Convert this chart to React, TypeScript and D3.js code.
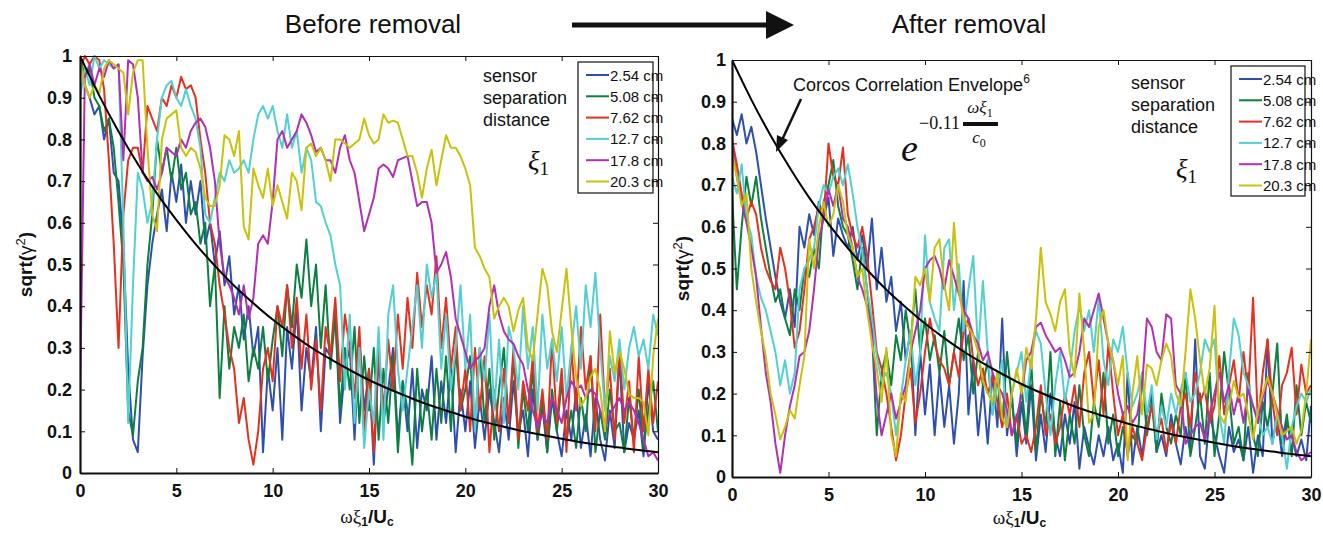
import React, { useRef, useEffect } from 'react';
import * as d3 from 'd3';

// sensor separations (legend) and line colours
const sensorLabels = ['2.54 cm', '5.08 cm', '7.62 cm', '12.7 cm', '17.8 cm', '20.3 cm'];
const sensorColors = ['#2f4fae', '#0b8040', '#e6301f', '#52d0d0', '#b22fb4', '#c9c10a'];

// all coherence series are sampled every 0.25 on the x axis (0 .. 30)
const xStep = 0.25;

// ---- before removal ----
const beforeBlue = [
  1.0, 0.93, 0.9, 0.86, 0.88, 0.8, 0.85, 0.72, 0.7, 0.55, 0.25, 0.08, 0.05, 0.28, 0.45, 0.55,
  0.62, 0.68, 0.58, 0.72, 0.65, 0.74, 0.6, 0.7, 0.62, 0.7, 0.55, 0.6, 0.5, 0.58, 0.45, 0.52,
  0.38, 0.45, 0.32, 0.4, 0.28, 0.35, 0.05, 0.25, 0.15, 0.3, 0.08, 0.35, 0.25, 0.4, 0.15, 0.3,
  0.22, 0.35, 0.1, 0.3, 0.28, 0.38, 0.12, 0.25, 0.3, 0.08, 0.32, 0.15, 0.25, 0.02, 0.28, 0.12,
  0.2, 0.3, 0.08, 0.22, 0.1, 0.25, 0.06, 0.2, 0.15, 0.28, 0.08, 0.22, 0.12, 0.25, 0.05, 0.2,
  0.1, 0.22, 0.06, 0.18, 0.08, 0.2, 0.12, 0.05, 0.18, 0.08, 0.22, 0.1, 0.15, 0.04, 0.2, 0.08,
  0.16, 0.05, 0.18, 0.1, 0.04, 0.15, 0.08, 0.2, 0.06, 0.14, 0.04, 0.18, 0.08, 0.03, 0.15, 0.06,
  0.28, 0.05, 0.12, 0.08, 0.15, 0.04, 0.22, 0.1, 0.08,
];
const beforeGreen = [
  1.0, 0.95, 0.97, 0.9, 0.88, 0.82, 0.85, 0.78, 0.65, 0.5, 0.15, 0.09, 0.22, 0.3, 0.5, 0.62,
  0.8, 0.72, 0.78, 0.7, 0.78, 0.68, 0.72, 0.62, 0.65, 0.55, 0.6, 0.4, 0.5, 0.18, 0.4, 0.25,
  0.35, 0.3, 0.38, 0.22, 0.3, 0.25, 0.35, 0.22, 0.32, 0.4, 0.28, 0.45, 0.35, 0.5, 0.42, 0.56,
  0.4, 0.5, 0.3, 0.45, 0.25, 0.38, 0.15, 0.3, 0.2, 0.35, 0.12, 0.28, 0.15, 0.3, 0.08, 0.25,
  0.12, 0.28, 0.05, 0.22, 0.15, 0.02, 0.25, 0.1, 0.2, 0.08, 0.25, 0.12, 0.28, 0.1, 0.3, 0.15,
  0.2, 0.28, 0.1, 0.3, 0.12, 0.25, 0.08, 0.2, 0.3, 0.12, 0.28, 0.06, 0.2, 0.1, 0.25, 0.08,
  0.18, 0.05, 0.2, 0.1, 0.22, 0.08, 0.15, 0.06, 0.18, 0.1, 0.28, 0.05, 0.15, 0.08, 0.2, 0.1,
  0.12, 0.05, 0.18, 0.08, 0.2, 0.06, 0.15, 0.22, 0.1,
];
const beforeRed = [
  0.97, 1.0, 0.98, 1.0, 0.99, 0.92, 0.75, 0.55, 0.3, 0.62, 0.75, 0.78, 0.78, 0.72, 0.88, 0.85,
  0.82, 0.9, 0.88, 0.93, 0.9, 0.95, 0.92, 0.93, 0.9, 0.8, 0.72, 0.6, 0.55, 0.45, 0.38, 0.3,
  0.25, 0.12, 0.18, 0.08, 0.02, 0.1, 0.25, 0.3, 0.22, 0.4, 0.35, 0.45, 0.3, 0.42, 0.25, 0.38,
  0.2, 0.32, 0.15, 0.35, 0.28, 0.42, 0.22, 0.38, 0.3, 0.18, 0.35, 0.1, 0.25, 0.05, 0.3, 0.15,
  0.32, 0.2, 0.38, 0.25, 0.42, 0.3, 0.48, 0.35, 0.45, 0.38, 0.52, 0.3, 0.42, 0.25, 0.35, 0.15,
  0.25, 0.1, 0.3, 0.15, 0.28, 0.05, 0.2, 0.1, 0.25, 0.12, 0.3, 0.08, 0.22, 0.15, 0.28, 0.1,
  0.2, 0.08, 0.32, 0.12, 0.25, 0.05, 0.3, 0.15, 0.35, 0.2, 0.28, 0.1, 0.38, 0.15, 0.25, 0.08,
  0.3, 0.12, 0.22, 0.05, 0.28, 0.1, 0.25, 0.12, 0.22,
];
const beforeCyan = [
  0.9, 0.97, 0.93, 1.0, 0.97, 0.99, 0.98, 0.97, 0.98, 0.6, 0.12, 0.45, 0.72, 0.68, 0.6, 0.65,
  0.8, 0.9, 0.93, 0.94, 0.9, 0.88, 0.92, 0.88, 0.85, 0.78, 0.62, 0.6, 0.66, 0.72, 0.7, 0.75,
  0.72, 0.73, 0.75, 0.72, 0.8, 0.86, 0.88, 0.85, 0.88, 0.82, 0.78, 0.86, 0.78, 0.82, 0.72, 0.78,
  0.75, 0.65, 0.64, 0.6, 0.57, 0.5, 0.45, 0.2, 0.38, 0.12, 0.3, 0.06, 0.2, 0.12, 0.35, 0.08,
  0.38, 0.45, 0.25, 0.15, 0.25, 0.35, 0.45, 0.3, 0.5, 0.42, 0.48, 0.25, 0.38, 0.2, 0.3, 0.45,
  0.25, 0.38, 0.1, 0.3, 0.22, 0.38, 0.15, 0.32, 0.12, 0.35, 0.3, 0.2, 0.4, 0.25, 0.35, 0.15,
  0.38, 0.25, 0.32, 0.22, 0.35, 0.18, 0.3, 0.4, 0.25, 0.45, 0.35, 0.48, 0.3, 0.15, 0.28, 0.22,
  0.32, 0.2, 0.3, 0.35, 0.28, 0.32, 0.25, 0.38, 0.33,
];
const beforeMagenta = [
  0.18, 0.95, 0.98, 0.93, 0.97, 0.95, 0.99, 0.97, 0.98, 0.75, 0.99, 0.98, 0.9, 0.72, 0.7, 0.71,
  0.68, 0.72, 0.78, 0.77, 0.76, 0.8, 0.78, 0.82, 0.84, 0.85, 0.83, 0.78, 0.7, 0.55, 0.47, 0.45,
  0.42, 0.38, 0.45, 0.37, 0.42, 0.55, 0.57, 0.55, 0.65, 0.8, 0.82, 0.78, 0.8, 0.82, 0.86, 0.84,
  0.81, 0.77, 0.78, 0.75, 0.75, 0.72, 0.78, 0.81, 0.75, 0.72, 0.65, 0.58, 0.62, 0.66, 0.73, 0.74,
  0.73, 0.71, 0.75, 0.755, 0.76, 0.7, 0.64, 0.65, 0.65, 0.6, 0.48, 0.5, 0.53, 0.47, 0.37, 0.33,
  0.29, 0.25, 0.27, 0.28, 0.3, 0.4, 0.45, 0.38, 0.34, 0.32, 0.31, 0.28, 0.26, 0.2, 0.15, 0.11,
  0.14, 0.12, 0.18, 0.15, 0.12, 0.18, 0.22, 0.2, 0.21, 0.18, 0.2, 0.19, 0.15, 0.11, 0.14, 0.16,
  0.18, 0.15, 0.17, 0.15, 0.12, 0.08, 0.04, 0.05, 0.03,
];
const beforeYellow = [
  0.99, 0.93, 0.9, 0.93, 0.91, 0.97, 0.99, 0.98, 0.97, 0.96, 0.86, 0.96, 0.99, 0.99, 0.78, 0.62,
  0.58, 0.8, 0.85, 0.86, 0.87, 0.78, 0.76, 0.78, 0.77, 0.73, 0.66, 0.64, 0.64, 0.69, 0.81, 0.8,
  0.76, 0.82, 0.59, 0.56, 0.73, 0.69, 0.66, 0.73, 0.64, 0.69, 0.65, 0.61, 0.72, 0.7, 0.63, 0.78,
  0.79, 0.76, 0.78, 0.75, 0.7, 0.8, 0.8, 0.79, 0.78, 0.79, 0.8, 0.85, 0.81, 0.79, 0.8, 0.86,
  0.84, 0.845, 0.84, 0.8, 0.76, 0.76, 0.72, 0.66, 0.73, 0.775, 0.69, 0.75, 0.81, 0.78, 0.78, 0.76,
  0.73, 0.69, 0.54, 0.52, 0.49, 0.47, 0.37, 0.4, 0.42, 0.4, 0.34, 0.39, 0.42, 0.3, 0.27, 0.38,
  0.49, 0.45, 0.34, 0.29, 0.39, 0.49, 0.35, 0.23, 0.16, 0.18, 0.23, 0.25, 0.2, 0.1, 0.34, 0.24,
  0.29, 0.25, 0.19, 0.18, 0.18, 0.17, 0.09, 0.28, 0.37,
];

// ---- after removal ----
const afterBlue = [
  0.86, 0.82, 0.87, 0.8, 0.84, 0.78, 0.7, 0.62, 0.55, 0.48, 0.42, 0.38, 0.45, 0.36, 0.6, 0.55,
  0.63, 0.58, 0.66, 0.62, 0.67, 0.53, 0.62, 0.58, 0.55, 0.6, 0.52, 0.58, 0.5, 0.62, 0.45, 0.55,
  0.42, 0.48, 0.35, 0.42, 0.28, 0.35, 0.1, 0.3, 0.15, 0.27, 0.1, 0.25, 0.12, 0.22, 0.08, 0.2,
  0.47, 0.15, 0.28, 0.1, 0.22, 0.08, 0.25, 0.12, 0.38, 0.1, 0.2, 0.05, 0.18, 0.08, 0.22, 0.04,
  0.15, 0.06, 0.2, 0.1, 0.05, 0.15, 0.08, 0.18, 0.02, 0.12, 0.07, 0.03, 0.1, 0.05, 0.12, 0.04,
  0.08, 0.01, 0.25, 0.03, 0.12, 0.05, 0.15, 0.2, 0.06, 0.1, 0.05, 0.15, 0.08, 0.03, 0.12, 0.06,
  0.33, 0.05, 0.02, 0.15, 0.1, 0.05, 0.01, 0.12, 0.06, 0.09, 0.04, 0.12, 0.01, 0.1, 0.05, 0.33,
  0.08, 0.15, 0.05, 0.13, 0.1, 0.05, 0.09, 0.04, 0.17,
];
const afterGreen = [
  0.68, 0.45, 0.6, 0.72, 0.65, 0.72, 0.62, 0.55, 0.48, 0.42, 0.45, 0.38, 0.34, 0.45, 0.4, 0.5,
  0.48, 0.55, 0.5, 0.66, 0.7, 0.76, 0.65, 0.6, 0.58, 0.52, 0.45, 0.55, 0.45, 0.35, 0.1, 0.25,
  0.3, 0.22, 0.34, 0.28, 0.4, 0.32, 0.45, 0.3, 0.38, 0.28, 0.34, 0.25, 0.35, 0.22, 0.3, 0.38,
  0.28, 0.34, 0.2, 0.3, 0.22, 0.28, 0.15, 0.25, 0.12, 0.3, 0.18, 0.08, 0.22, 0.1, 0.28, 0.06,
  0.2, 0.12, 0.3, 0.05, 0.18, 0.04, 0.15, 0.08, 0.22, 0.1, 0.05, 0.18, 0.12, 0.25, 0.08, 0.15,
  0.05, 0.12, 0.06, 0.1, 0.08, 0.25, 0.1, 0.18, 0.06, 0.2, 0.12, 0.08, 0.15, 0.1, 0.25, 0.05,
  0.12, 0.2, 0.08, 0.25, 0.05, 0.15, 0.3, 0.2, 0.08, 0.12, 0.04, 0.25, 0.1, 0.05, 0.18, 0.12,
  0.2, 0.32, 0.08, 0.15, 0.05, 0.22, 0.1, 0.18, 0.13,
];
const afterRed = [
  0.81, 0.75, 0.68, 0.62, 0.66, 0.63, 0.55, 0.5, 0.47, 0.45, 0.55, 0.5, 0.42, 0.31, 0.35, 0.45,
  0.57, 0.6, 0.65, 0.62, 0.8, 0.72, 0.7, 0.79, 0.63, 0.58, 0.55, 0.6, 0.53, 0.42, 0.3, 0.26,
  0.2, 0.12, 0.04, 0.1, 0.2, 0.26, 0.13, 0.2, 0.3, 0.38, 0.32, 0.28, 0.26, 0.22, 0.3, 0.24,
  0.35, 0.38, 0.28, 0.22, 0.26, 0.2, 0.24, 0.18, 0.12, 0.2, 0.1, 0.15, 0.08, 0.1, 0.06, 0.12,
  0.22, 0.1, 0.15, 0.08, 0.12, 0.2, 0.15, 0.22, 0.12, 0.25, 0.3, 0.18, 0.28, 0.15, 0.32, 0.2,
  0.1, 0.15, 0.05, 0.12, 0.08, 0.04, 0.12, 0.17, 0.1, 0.14, 0.06, 0.13, 0.08, 0.17, 0.2, 0.12,
  0.25, 0.18, 0.21, 0.13, 0.17, 0.29, 0.15, 0.22, 0.28, 0.18, 0.3, 0.2, 0.43, 0.13, 0.25, 0.33,
  0.18, 0.1, 0.22, 0.25, 0.31, 0.15, 0.27, 0.2, 0.22,
];
const afterCyan = [
  0.72, 0.68, 0.75, 0.62, 0.58, 0.48, 0.43, 0.4, 0.35, 0.3, 0.22, 0.28, 0.2, 0.25, 0.45, 0.5,
  0.52, 0.55, 0.65, 0.7, 0.68, 0.72, 0.74, 0.7, 0.75, 0.68, 0.6, 0.54, 0.45, 0.38, 0.29, 0.23,
  0.25, 0.2, 0.1, 0.19, 0.28, 0.35, 0.22, 0.3, 0.58, 0.42, 0.38, 0.35, 0.55, 0.57, 0.4, 0.51,
  0.35, 0.45, 0.53, 0.3, 0.47, 0.3, 0.15, 0.22, 0.28, 0.12, 0.2, 0.25, 0.3, 0.18, 0.28, 0.35,
  0.32, 0.2, 0.1, 0.22, 0.3, 0.18, 0.25, 0.35, 0.41, 0.35, 0.4, 0.3, 0.43, 0.28, 0.22, 0.33,
  0.3, 0.36, 0.25, 0.17, 0.2, 0.25, 0.15, 0.22, 0.09, 0.17, 0.12, 0.2, 0.15, 0.21, 0.25, 0.18,
  0.2, 0.25, 0.33, 0.3, 0.33, 0.15, 0.08, 0.25, 0.38, 0.34, 0.25, 0.22, 0.17, 0.15, 0.1, 0.12,
  0.08, 0.15, 0.1, 0.02, 0.12, 0.17, 0.2, 0.18, 0.21,
];
const afterMagenta = [
  0.8, 0.72, 0.66, 0.61, 0.55, 0.48, 0.36, 0.25, 0.18, 0.08, 0.01, 0.1, 0.17, 0.22, 0.29, 0.3,
  0.35, 0.45, 0.57, 0.62, 0.69, 0.65, 0.7, 0.62, 0.6, 0.55, 0.48, 0.45, 0.41, 0.35, 0.19, 0.1,
  0.15, 0.2, 0.14, 0.18, 0.22, 0.3, 0.35, 0.4, 0.5, 0.52, 0.53, 0.5, 0.45, 0.52, 0.48, 0.44,
  0.4, 0.38, 0.34, 0.32, 0.28, 0.3, 0.25, 0.22, 0.2, 0.16, 0.1, 0.14, 0.2, 0.28, 0.3, 0.36,
  0.37, 0.34, 0.32, 0.3, 0.31, 0.28, 0.24, 0.25, 0.3, 0.38, 0.36, 0.4, 0.44, 0.38, 0.32, 0.28,
  0.2, 0.15, 0.17, 0.13, 0.15, 0.22, 0.38, 0.36, 0.3, 0.28, 0.39, 0.38, 0.22, 0.2, 0.08, 0.1,
  0.12, 0.13, 0.09, 0.15, 0.2, 0.25, 0.18, 0.22, 0.15, 0.2, 0.13, 0.21, 0.17, 0.13, 0.19, 0.23,
  0.2, 0.16, 0.12, 0.09, 0.1, 0.06, 0.04, 0.05, 0.06,
];
const afterYellow = [
  0.78, 0.72, 0.65, 0.68, 0.5, 0.42, 0.35, 0.29, 0.2, 0.15, 0.09, 0.12, 0.16, 0.14, 0.22, 0.29,
  0.57, 0.5, 0.6, 0.66, 0.6, 0.63, 0.7, 0.66, 0.58, 0.55, 0.48, 0.5, 0.4, 0.32, 0.26, 0.18,
  0.31, 0.1, 0.05, 0.2, 0.18, 0.3, 0.48, 0.46, 0.5, 0.42, 0.55, 0.57, 0.46, 0.4, 0.61, 0.45,
  0.38, 0.36, 0.34, 0.3, 0.23, 0.2, 0.18, 0.25, 0.14, 0.12, 0.2, 0.26, 0.2, 0.31, 0.26, 0.38,
  0.55, 0.42, 0.39, 0.35, 0.42, 0.45, 0.3, 0.24, 0.44, 0.3, 0.13, 0.15, 0.36, 0.4, 0.32, 0.28,
  0.22, 0.29, 0.04, 0.2, 0.29, 0.15, 0.27, 0.26, 0.22, 0.28, 0.32, 0.29, 0.2, 0.17, 0.3, 0.45,
  0.38, 0.28, 0.2, 0.26, 0.41, 0.15, 0.13, 0.17, 0.23, 0.19, 0.2, 0.15, 0.09, 0.16, 0.2, 0.24,
  0.2, 0.15, 0.1, 0.11, 0.12, 0.08, 0.11, 0.2, 0.33,
];

// Corcos correlation envelope as drawn
const envelopeX = [0, 1, 2, 3, 4, 5, 6, 7, 8, 9, 10, 11, 12, 13, 14, 15, 16, 17, 18, 19, 20, 21, 22, 23, 24, 25, 26, 27, 28, 29, 30];
const envelopeY = [1.0, 0.905, 0.819, 0.741, 0.67, 0.607, 0.549, 0.497, 0.449, 0.407, 0.368, 0.333, 0.301, 0.273, 0.247, 0.223, 0.202, 0.183, 0.165, 0.15, 0.135, 0.122, 0.111, 0.1, 0.091, 0.082, 0.074, 0.067, 0.061, 0.055, 0.05];

const xTicks = [0, 5, 10, 15, 20, 25, 30];
const yTicks = [0, 0.1, 0.2, 0.3, 0.4, 0.5, 0.6, 0.7, 0.8, 0.9, 1];
const yTickLabels = ['0', '0.1', '0.2', '0.3', '0.4', '0.5', '0.6', '0.7', '0.8', '0.9', '1'];

const SANS = "'Liberation Sans', Arial, Helvetica, sans-serif";
const SERIF = "'Liberation Serif', 'Times New Roman', serif";

function drawPanel(svg, cfg) {
  const x = d3.scaleLinear().domain([0, 30]).range([cfg.left, cfg.right]);
  const y = d3.scaleLinear().domain([0, 1]).range([cfg.bottom, cfg.top]);

  const clipId = 'clip-' + cfg.id;
  svg.append('clipPath').attr('id', clipId)
    .append('rect')
    .attr('x', cfg.left).attr('y', cfg.top - 2)
    .attr('width', cfg.right - cfg.left).attr('height', cfg.bottom - cfg.top + 2);

  const line = d3.line()
    .x((d, i) => x(i * xStep))
    .y(d => y(d));

  const plot = svg.append('g').attr('clip-path', `url(#${clipId})`);
  cfg.series.forEach((vals, k) => {
    plot.append('path')
      .datum(vals)
      .attr('d', line)
      .attr('fill', 'none')
      .attr('stroke', sensorColors[k])
      .attr('stroke-width', 2)
      .attr('stroke-linejoin', 'round');
  });

  const env = d3.line()
    .x((d, i) => x(envelopeX[i]))
    .y(d => y(d))
    .curve(d3.curveMonotoneX);
  plot.append('path')
    .datum(envelopeY)
    .attr('d', env)
    .attr('fill', 'none')
    .attr('stroke', '#000')
    .attr('stroke-width', 2);

  // frame: ticks point inward on every side
  const styleAxis = (g, w) => {
    g.select('.domain').attr('stroke', '#111').attr('stroke-width', w);
    g.selectAll('.tick line').attr('stroke', '#111').attr('stroke-width', 1);
    g.selectAll('.tick text')
      .attr('font-family', SANS).attr('font-weight', 'bold')
      .attr('font-size', 18).attr('fill', '#111');
  };

  svg.append('g')
    .attr('transform', `translate(0,${cfg.top})`)
    .call(d3.axisTop(x).tickValues(xTicks).tickSizeInner(-5).tickSizeOuter(0).tickFormat(() => ''))
    .call(g => styleAxis(g, 1.2));
  svg.append('g')
    .attr('transform', `translate(${cfg.right},0)`)
    .call(d3.axisRight(y).tickValues(yTicks).tickSizeInner(-5).tickSizeOuter(0).tickFormat(() => ''))
    .call(g => styleAxis(g, 1.2));
  svg.append('g')
    .attr('transform', `translate(0,${cfg.bottom})`)
    .call(d3.axisBottom(x).tickValues(xTicks).tickSizeInner(-5).tickSizeOuter(0).tickPadding(11))
    .call(g => styleAxis(g, 2.2));
  svg.append('g')
    .attr('transform', `translate(${cfg.left},0)`)
    .call(d3.axisLeft(y).tickValues(yTicks).tickSizeInner(-5).tickSizeOuter(0).tickPadding(cfg.yPad)
      .tickFormat((d, i) => yTickLabels[i]))
    .call(g => styleAxis(g, 2.2));

  // y axis title
  const yt = svg.append('text')
    .attr('transform', `translate(${cfg.yTitleX},${(cfg.top + cfg.bottom) / 2}) rotate(-90)`)
    .attr('text-anchor', 'middle')
    .attr('font-family', SANS).attr('font-size', 19).attr('font-weight', 'bold').attr('fill', '#111');
  yt.append('tspan').text('sqrt(');
  yt.append('tspan').attr('font-weight', 'normal').text('γ');
  yt.append('tspan').attr('font-size', 13).attr('dy', -7).attr('font-weight', 'normal').text('2');
  yt.append('tspan').attr('dy', 7).text(')');

  // x axis title
  const xt = svg.append('text')
    .attr('x', (cfg.left + cfg.right) / 2 - 2)
    .attr('y', cfg.xTitleY)
    .attr('text-anchor', 'middle')
    .attr('font-family', SANS).attr('font-size', 19).attr('font-weight', 'bold').attr('fill', '#111');
  xt.append('tspan').attr('font-weight', 'normal').attr('font-family', SERIF).text('ωξ');
  xt.append('tspan').attr('font-size', 12).attr('dy', 3).text('1');
  xt.append('tspan').attr('dy', -3).text('/U');
  xt.append('tspan').attr('font-size', 12).attr('dy', 3).text('c');

  // legend
  const lg = svg.append('g');
  lg.append('rect')
    .attr('x', cfg.legend.x).attr('y', cfg.legend.y)
    .attr('width', cfg.legend.w).attr('height', cfg.legend.h)
    .attr('fill', '#fff').attr('stroke', '#111').attr('stroke-width', 1.2);
  sensorLabels.forEach((lab, k) => {
    const cy = cfg.legend.y + 13 + k * 21.3;
    lg.append('line')
      .attr('x1', cfg.legend.x + 8).attr('x2', cfg.legend.x + 31)
      .attr('y1', cy).attr('y2', cy)
      .attr('stroke', sensorColors[k]).attr('stroke-width', 2);
    lg.append('text')
      .attr('x', cfg.legend.x + 32).attr('y', cy + 5.5)
      .attr('font-family', SANS).attr('font-size', 15).attr('fill', '#111')
      .text(lab);
  });

  // "sensor separation distance" and xi_1
  ['sensor', 'separation', 'distance'].forEach((t, k) => {
    svg.append('text')
      .attr('x', cfg.note.x).attr('y', cfg.note.y + k * 22)
      .attr('font-family', SANS).attr('font-size', 18).attr('fill', '#111')
      .text(t);
  });
  const xi = svg.append('text')
    .attr('x', cfg.xi.x).attr('y', cfg.xi.y)
    .attr('font-family', SERIF).attr('font-size', 27).attr('fill', '#111');
  xi.append('tspan').attr('font-style', 'italic').text('ξ');
  xi.append('tspan').attr('font-size', 19).attr('dy', 5).text('1');
}

function App() {
  const svgRef = useRef(null);

  useEffect(() => {
    const svg = d3.select(svgRef.current);
    svg.selectAll('*').remove();

    // titles and the arrow between them
    svg.append('text').attr('x', 373).attr('y', 33).attr('text-anchor', 'middle')
      .attr('font-family', SANS).attr('font-size', 26).attr('fill', '#111').text('Before removal');
    svg.append('text').attr('x', 969).attr('y', 33).attr('text-anchor', 'middle')
      .attr('font-family', SANS).attr('font-size', 26).attr('fill', '#111').text('After removal');
    svg.append('rect').attr('x', 572).attr('y', 22.5).attr('width', 196).attr('height', 5).attr('fill', '#111');
    svg.append('path').attr('d', 'M766,11 L794,25 L766,39 Z').attr('fill', '#111');

    drawPanel(svg, {
      id: 'before',
      left: 80, right: 658, top: 56, bottom: 473,
      yPad: 8, yTitleX: 32, xTitleY: 523,
      series: [beforeBlue, beforeGreen, beforeRed, beforeCyan, beforeMagenta, beforeYellow],
      legend: { x: 578, y: 62, w: 75, h: 131 },
      note: { x: 483, y: 82 },
      xi: { x: 528, y: 170 },
    });

    drawPanel(svg, {
      id: 'after',
      left: 732, right: 1311, top: 60, bottom: 477,
      yPad: 6, yTitleX: 689, xTitleY: 524,
      series: [afterBlue, afterGreen, afterRed, afterCyan, afterMagenta, afterYellow],
      legend: { x: 1231, y: 66, w: 74, h: 130 },
      note: { x: 1131, y: 89 },
      xi: { x: 1176, y: 178 },
    });

    // Corcos label, arrow and the exponential formula
    const cl = svg.append('text').attr('x', 793).attr('y', 91)
      .attr('font-family', SANS).attr('font-size', 18).attr('fill', '#111');
    cl.append('tspan').text('Corcos Correlation Envelope');
    cl.append('tspan').attr('font-size', 12).attr('dy', -8).text('6');
    svg.append('line').attr('x1', 801).attr('y1', 99).attr('x2', 782).attr('y2', 140)
      .attr('stroke', '#111').attr('stroke-width', 2.5);
    svg.append('path').attr('d', 'M776,152 L777,135 L788,140 Z').attr('fill', '#111');

    svg.append('text').attr('x', 901).attr('y', 161)
      .attr('font-family', SERIF).attr('font-style', 'italic').attr('font-size', 38).attr('fill', '#111').text('e');
    svg.append('text').attr('x', 919).attr('y', 129)
      .attr('font-family', SERIF).attr('font-size', 18).attr('fill', '#111').text('−0.11');
    svg.append('rect').attr('x', 963).attr('y', 122).attr('width', 35).attr('height', 4).attr('fill', '#111');
    const num = svg.append('text').attr('x', 980).attr('y', 113).attr('text-anchor', 'middle')
      .attr('font-family', SERIF).attr('font-size', 17).attr('fill', '#111');
    num.append('tspan').attr('font-style', 'italic').text('ωξ');
    num.append('tspan').attr('font-size', 12).attr('dy', 4).text('1');
    const den = svg.append('text').attr('x', 979).attr('y', 143).attr('text-anchor', 'middle')
      .attr('font-family', SERIF).attr('font-size', 17).attr('fill', '#111');
    den.append('tspan').attr('font-style', 'italic').text('c');
    den.append('tspan').attr('font-size', 12).attr('dy', 4).text('0');
  }, []);

  return (
    <div style={{ position: 'absolute', left: 0, top: 0 }}>
      <style>{'body { margin: 0; background: #fff; }'}</style>
      <svg ref={svgRef} width={1323} height={533} style={{ display: 'block', background: '#fff' }} />
    </div>
  );
}

export default App;
